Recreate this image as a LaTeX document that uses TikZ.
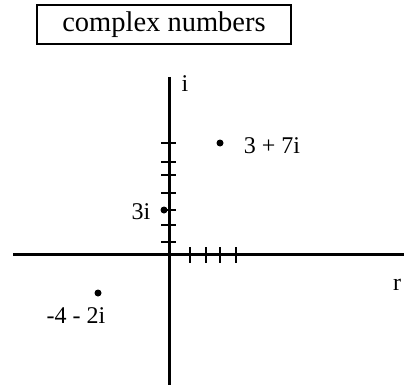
\documentclass[tikz,border=0pt]{standalone}
\usepackage{fontspec}
\setmainfont{Liberation Serif}
\begin{document}
\begin{tikzpicture}[x=1pt,y=-1pt,
  axis/.style={line width=3pt},
  tick/.style={line width=1.8pt},
  lbl/.style={inner sep=0pt,font=\fontsize{24}{28}\selectfont},
  dotpt/.style={circle,fill=black,inner sep=0pt,minimum size=7pt}]
\useasboundingbox (0,0) rectangle (404,385);
\node[draw,line width=1.3pt,minimum width=254pt,minimum height=39pt,inner sep=0pt,
  font=\fontsize{28.5}{32}\selectfont] (title) at (164,24.5) {complex numbers};
% axes
\coordinate (xl) at (13,254);
\coordinate (xr) at (404,254);
\coordinate (yt) at (169,77);
\coordinate (yb) at (169,385);
\draw[axis] (xl) -- (xr);
\draw[axis] (yt) -- (yb);
% ticks on imaginary axis
\foreach \y/\n in {143/a,162/b,175/c,193/d,210/e,225/f,242/g}{
  \coordinate (tl\n) at (161,\y);
  \coordinate (tr\n) at (176,\y);
  \draw[tick] (tl\n) -- (tr\n);
}
% ticks on real axis
\foreach \x/\n in {190/a,206/b,220/c,236/d}{
  \coordinate (tt\n) at (\x,247);
  \coordinate (tb\n) at (\x,263);
  \draw[tick] (tt\n) -- (tb\n);
}
% labels
\node[lbl] (ilab) at (185,84) {i};
\node[lbl] (rlab) at (397,285) {r};
% points
\node[dotpt] (p1) at (220,143) {};
\node[lbl] (p1lab) at (272,146) {3 + 7i};
\node[dotpt] (p2) at (164,210) {};
\node[lbl] (p2lab) at (141,212) {3i};
\node[dotpt] (p3) at (98,293) {};
\node[lbl] (p3lab) at (76,316) {-4 - 2i};
\end{tikzpicture}
\end{document}
